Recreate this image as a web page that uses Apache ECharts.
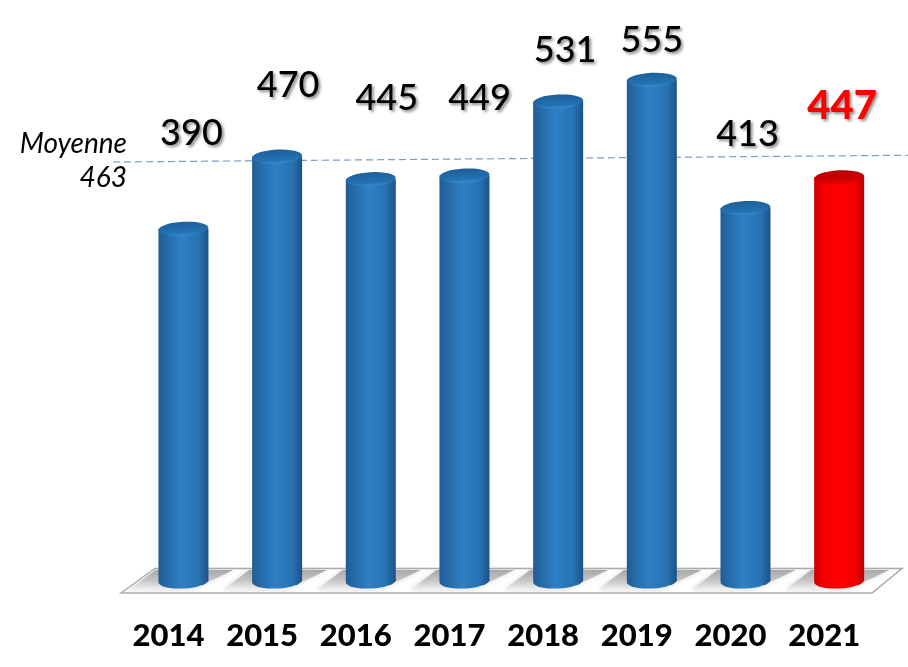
<!DOCTYPE html>
<html><head><meta charset="utf-8">
<style>html,body{margin:0;padding:0;background:#fff}#c{width:908px;height:667px}</style>
<script src="https://cdn.jsdelivr.net/npm/echarts@6/dist/echarts.min.js"></script>
</head><body><div id="c"></div>
<script>
const years = ['2014','2015','2016','2017','2018','2019','2020','2021'];
const values = [390,470,445,449,531,555,413,447];
const labelOffsets = [[8,-72],[11,-48],[16,-58],[15,-54],[7,-28],[0,-16],[2,-51],[3,-46]];
const averageValue = 463;
const averageLine = [[113,464],[908,471.5]];
const highlightYear = '2021';

const blue = new echarts.graphic.LinearGradient(0,0,1,0,[
  {offset:0,color:'#1f5c92'},{offset:.12,color:'#2467a3'},{offset:.45,color:'#2e7fc4'},{offset:.8,color:'#2773b3'},{offset:1,color:'#1c5288'}]);
const red = new echarts.graphic.LinearGradient(0,0,1,0,[
  {offset:0,color:'#c40000'},{offset:.14,color:'#ee0000'},{offset:.45,color:'#ff0000'},{offset:.82,color:'#f40000'},{offset:1,color:'#b80000'}]);
const blueTop = new echarts.graphic.LinearGradient(0,0,0,1,[{offset:0,color:'#1d5f99'},{offset:.75,color:'#2371b3'},{offset:1,color:'#3a8ccf'}]);
const redTop = new echarts.graphic.LinearGradient(0,0,0,1,[{offset:0,color:'#b30000'},{offset:.8,color:'#d80000'},{offset:1,color:'#f00000'}]);
const isHi = i => years[i] === highlightYear;

const chart = echarts.init(document.getElementById('c'),null,{renderer:'canvas'});
const gridL = 136.6, gridR = 22, gridT = 20, gridB = 86;
const yMax = (667-gridT-gridB)/0.903;

chart.setOption({
  animation:false,
  backgroundColor:'#fff',
  grid:[
    {left:gridL,right:gridR,top:gridT,bottom:gridB},
    {left:0,right:0,top:gridT,bottom:gridB}
  ],
  xAxis:[
    {type:'category',data:years,gridIndex:0,axisLine:{show:false},axisTick:{show:false},
     axisLabel:{interval:0,margin:39,padding:[0,30,0,0],fontFamily:'Lato',fontWeight:900,fontSize:31,color:'#000'}},
    {type:'value',gridIndex:1,min:0,max:908,show:false}
  ],
  yAxis:[
    {type:'value',gridIndex:0,min:0,max:yMax,show:false},
    {type:'value',gridIndex:1,min:0,max:yMax,show:false}
  ],
  graphic:[
    {type:'polygon',z:0,silent:true,shape:{points:[[121,593],[155,568.5],[902,568.5],[872,593]]},
     style:{fill:'#fff',stroke:'#a9a9a9',lineWidth:1.5}},
    {type:'text',z:5,style:{x:127,y:144,text:'Moyenne',align:'right',verticalAlign:'middle',
      font:'italic 28px Lato',fill:'#000'}},
    {type:'text',z:5,style:{x:127,y:178,text:String(averageValue),align:'right',verticalAlign:'middle',
      font:'italic 28px Lato',fill:'#000'}}
  ],
  series:[
    {type:'custom',xAxisIndex:0,yAxisIndex:0,z:1,silent:true,clip:false,data:years.map((y,i)=>[i]),
     encode:{x:0},
     renderItem(p,api){
       const cx = api.coord([api.value(0),0])[0];
       const y0 = api.coord([0,0])[1];
       return {type:'polygon',
         shape:{points:[[cx-54,y0+9],[cx-28,y0-11],[cx+50,y0-11],[cx+8,y0+9]]},
         style:{fill:new echarts.graphic.LinearGradient(0,0,0,1,[
           {offset:0,color:'#a8a8a8'},{offset:.5,color:'#c4c4c4'},{offset:1,color:'#f2f2f2'}]),
           shadowBlur:5,shadowColor:'rgba(190,190,190,.6)'}};
     }},
    {type:'line',xAxisIndex:1,yAxisIndex:1,z:2,silent:true,symbol:'none',data:averageLine,
     lineStyle:{color:'#7f9bc0',width:1.2,type:[7,4]}},
    {type:'bar',xAxisIndex:0,yAxisIndex:0,z:3,barWidth:50,
     data:values.map((v,i)=>({value:v,itemStyle:{color:isHi(i)?red:blue},
       label:{show:true,position:'top',offset:labelOffsets[i],formatter:String(v),
         fontFamily:'Lato',fontSize:isHi(i)?40:36,fontWeight:isHi(i)?900:500,
         color:isHi(i)?'#ff0000':'#000',
         textShadowColor:'rgba(0,0,0,.45)',textShadowBlur:3,textShadowOffsetX:2,textShadowOffsetY:2}}))},
    {type:'pictorialBar',xAxisIndex:0,yAxisIndex:0,z:4,symbol:'circle',symbolSize:[50,14],
     symbolPosition:'end',symbolOffset:[0,'-50%'],symbolRotate:3,
     data:values.map((v,i)=>({value:v,itemStyle:{color:isHi(i)?redTop:blueTop}}))},
    {type:'pictorialBar',xAxisIndex:0,yAxisIndex:0,z:2.5,symbol:'circle',symbolSize:[50,15],
     symbolPosition:'start',symbolOffset:[0,'50%'],symbolRotate:3,
     data:values.map((v,i)=>({value:v,itemStyle:{color:isHi(i)?red:blue}}))}
  ]
});
</script></body></html>
